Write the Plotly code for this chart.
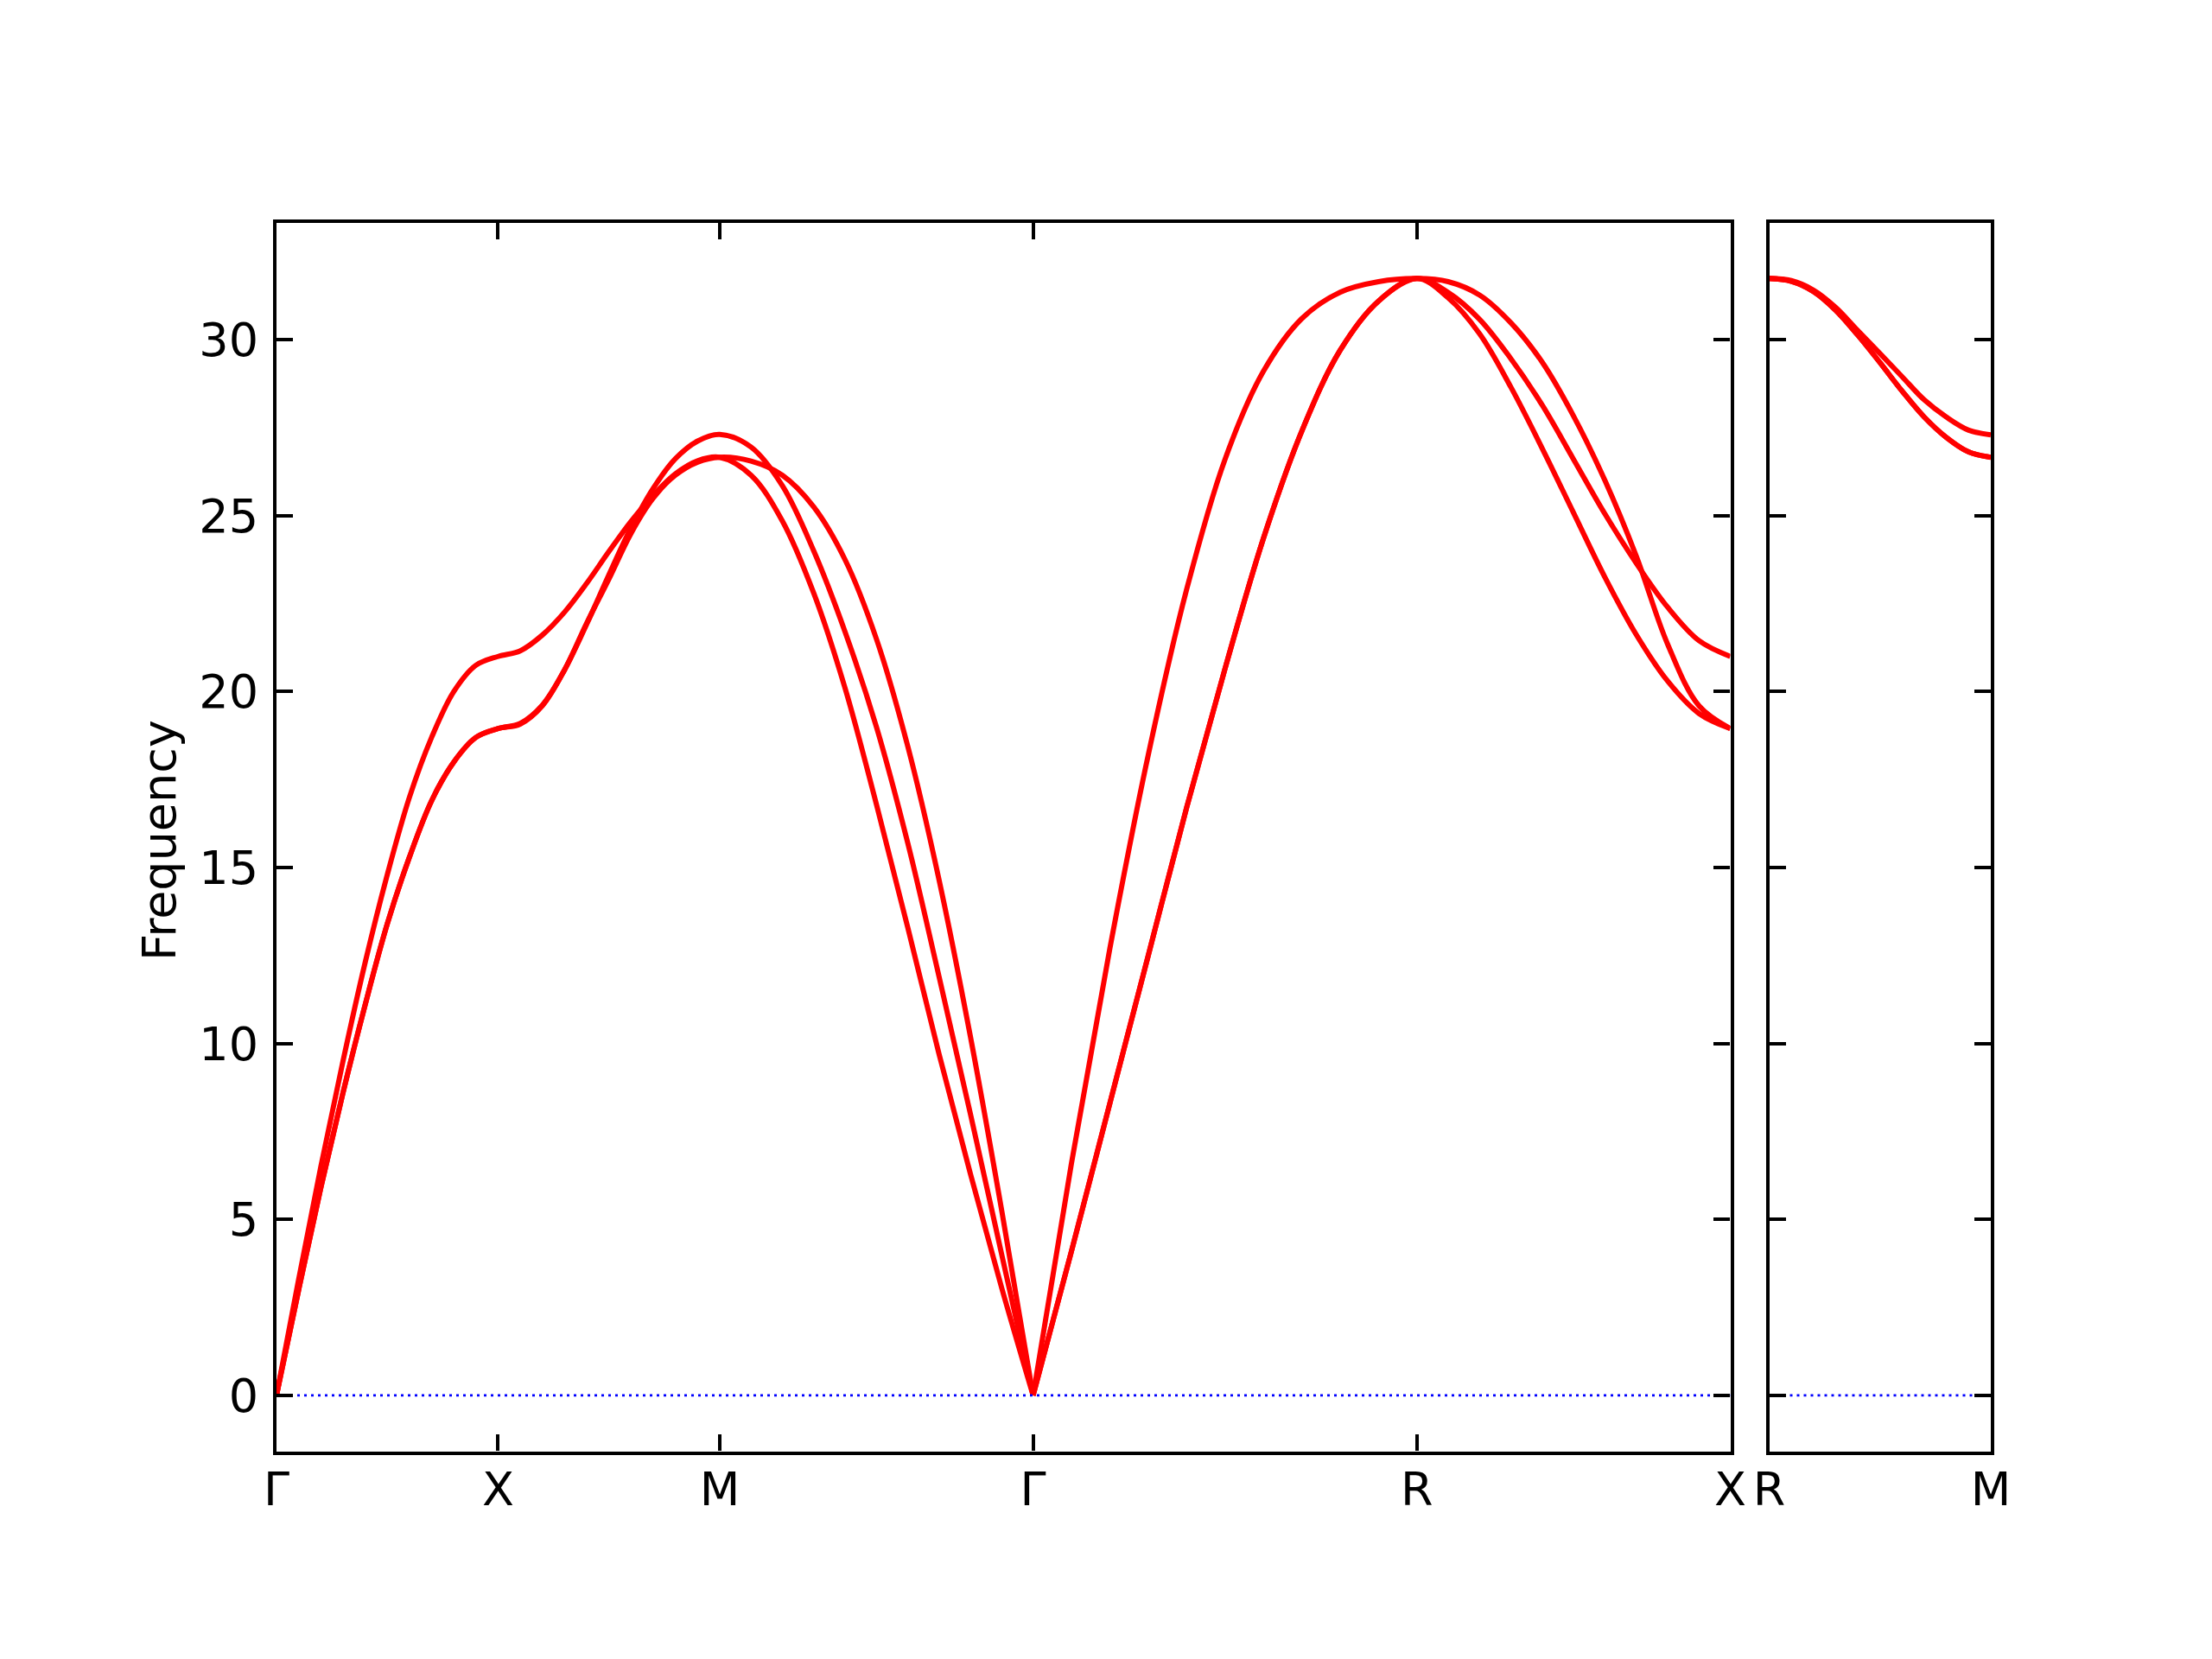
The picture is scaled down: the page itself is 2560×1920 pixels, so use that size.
import plotly.graph_objects as go

# ---------------- data ----------------
# high-symmetry path positions (reciprocal distance) and labels
main_k = [0.0, 0.5, 1.0, 1.7071, 2.5731, 3.2802]
main_labels = ["Γ", "X", "M", "Γ", "R", "X"]
side_k = [3.2802, 3.7802]
side_labels = ["R", "M"]

# fractional positions of the sampled points along every segment
frac = [0.0, 0.1, 0.2, 0.3, 0.4, 0.5, 0.6, 0.7, 0.8, 0.9, 1.0]

# Γ -> X
gx_t1 = [0.0, 3.0, 5.9, 8.6, 11.1, 13.4, 15.3, 16.9, 18.0, 18.7, 18.95]
gx_t2 = [0.0, 3.0, 5.9, 8.6, 11.1, 13.4, 15.3, 16.9, 18.0, 18.7, 18.95]
gx_l = [0.0, 3.3, 6.5, 9.5, 12.3, 14.8, 17.0, 18.7, 20.0, 20.75, 21.0]

# X -> M
xm_b1 = [18.95, 19.10, 19.62, 20.62, 21.92, 23.32, 24.66, 25.78, 26.62, 27.12, 27.31]
xm_b2 = [18.95, 19.08, 19.60, 20.62, 21.95, 23.20, 24.50, 25.50, 26.15, 26.52, 26.66]
xm_b3 = [21.0, 21.16, 21.61, 22.26, 23.08, 23.98, 24.84, 25.58, 26.19, 26.56, 26.66]

# M -> Γ
mg_b1 = [27.31, 26.95, 25.85, 24.00, 21.70, 19.00, 15.70, 11.90, 8.00, 4.00, 0.0]
mg_b2 = [26.66, 26.55, 26.15, 25.25, 23.75, 21.50, 18.45, 14.65, 10.20, 5.25, 0.0]
mg_b3 = [26.66, 26.15, 24.85, 22.80, 20.10, 16.80, 13.30, 9.70, 6.30, 3.05, 0.0]

# Γ -> R
gr_b1 = [0.0, 6.6, 12.7, 18.2, 22.9, 26.6, 29.1, 30.6, 31.35, 31.65, 31.74]
gr_b2 = [0.0, 4.1, 8.3, 12.5, 16.7, 20.65, 24.35, 27.4, 29.7, 31.1, 31.74]
gr_b3 = [0.0, 4.1, 8.3, 12.5, 16.7, 20.65, 24.35, 27.4, 29.7, 31.1, 31.74]

# R -> X
rx_b1 = [31.74, 31.65, 31.27, 30.48, 29.36, 27.83, 26.00, 23.85, 21.35, 19.60, 18.95]
rx_b2 = [31.74, 31.34, 30.58, 29.46, 28.14, 26.60, 25.05, 23.65, 22.40, 21.45, 21.0]
rx_b3 = [31.74, 31.19, 30.17, 28.65, 26.91, 25.08, 23.25, 21.62, 20.30, 19.38, 18.95]

# R -> M (side panel)
rm_b1 = [31.74, 31.68, 31.41, 30.92, 30.26, 29.61, 28.95, 28.29, 27.80, 27.43, 27.30]
rm_b2 = [31.74, 31.66, 31.37, 30.84, 30.13, 29.35, 28.54, 27.80, 27.22, 26.81, 26.66]
rm_b3 = [31.74, 31.66, 31.37, 30.84, 30.13, 29.35, 28.54, 27.80, 27.22, 26.81, 26.66]

yticks = [0, 5, 10, 15, 20, 25, 30]

# continuous runs of bands (segment index, band list) - broken at Γ
main_runs = [
    (0, [(gx_t1, xm_b1, mg_b1), (gx_t2, xm_b2, mg_b2), (gx_l, xm_b3, mg_b3)]),
    (3, [(gr_b1, rx_b1), (gr_b2, rx_b2), (gr_b3, rx_b3)]),
]
side_runs = [
    (0, [(rm_b1,), (rm_b2,), (rm_b3,)]),
]

# ---------------- figure ----------------
FONT = "DejaVu Sans"
RED = "#ff0000"
fig = go.Figure()


def add_runs(kpts, runs, xa, ya):
    for start, bands in runs:
        for chain in bands:
            xs, ys = [], []
            for j, vals in enumerate(chain):
                k0, k1 = kpts[start + j], kpts[start + j + 1]
                seg_x = [k0 + f * (k1 - k0) for f in frac]
                skip = 0 if j == 0 else 1
                xs += seg_x[skip:]
                ys += list(vals[skip:])
            fig.add_trace(go.Scatter(
                x=xs, y=ys, mode="lines", xaxis=xa, yaxis=ya,
                line=dict(color=RED, width=6, shape="spline", smoothing=1.0),
                hoverinfo="skip", showlegend=False))
    # zero line (dotted blue)
    fig.add_trace(go.Scatter(
        x=[kpts[0], kpts[-1]], y=[0, 0], mode="lines", xaxis=xa, yaxis=ya,
        line=dict(color="blue", width=2.8, dash="3px,5px"),
        hoverinfo="skip", showlegend=False))


add_runs(main_k, main_runs, "x", "y")
add_runs(side_k, side_runs, "x2", "y2")

allv = [v for _, bands in main_runs + side_runs for ch in bands for b in ch for v in b]
vmin, vmax = min(allv), max(allv)
pad = 0.05 * (vmax - vmin)
yrange = [vmin - pad, vmax + pad]

axis_common = dict(
    showline=True, linecolor="black", linewidth=4.4, mirror="ticks",
    ticks="inside", ticklen=19, tickwidth=4.4, tickcolor="black",
    showgrid=False, zeroline=False, automargin=False,
    tickfont=dict(family=FONT, size=54, color="black"),
)

W, H = 2560, 1920
OFF = 8  # page offset of the plot div


def px_x(p):
    return (p - OFF) / W


def px_y(p):
    return 1 - (p - OFF) / H


fig.update_layout(
    width=W, height=H,
    margin=dict(l=0, r=0, t=0, b=0, pad=0, autoexpand=False),
    paper_bgcolor="white", plot_bgcolor="white",
    showlegend=False,
    xaxis=dict(domain=[px_x(320), px_x(2002.5)], range=[main_k[0], main_k[-1]],
               tickmode="array", tickvals=main_k, ticktext=main_labels,
               anchor="y", ticklabelstandoff=-7, **axis_common),
    yaxis=dict(domain=[px_y(1679.6), px_y(257.7)], range=yrange,
               tickmode="array", tickvals=yticks,
               ticktext=[str(t) for t in yticks],
               anchor="x", ticklabelstandoff=6, **axis_common),
    xaxis2=dict(domain=[px_x(2047.5), px_x(2304)], range=[side_k[0], side_k[-1]],
                tickmode="array", tickvals=side_k, ticktext=side_labels,
                anchor="y2", ticklabelstandoff=-7, **axis_common),
    yaxis2=dict(domain=[px_y(1679.6), px_y(257.7)], range=yrange,
                tickmode="array", tickvals=yticks, showticklabels=False,
                anchor="x2", **axis_common),
    annotations=[dict(
        text="Frequency", xref="paper", yref="paper",
        x=px_x(185), y=px_y(973), xanchor="center", yanchor="middle",
        textangle=-90, showarrow=False,
        font=dict(family=FONT, size=54, color="black"))],
)

fig.write_html("out.html")
